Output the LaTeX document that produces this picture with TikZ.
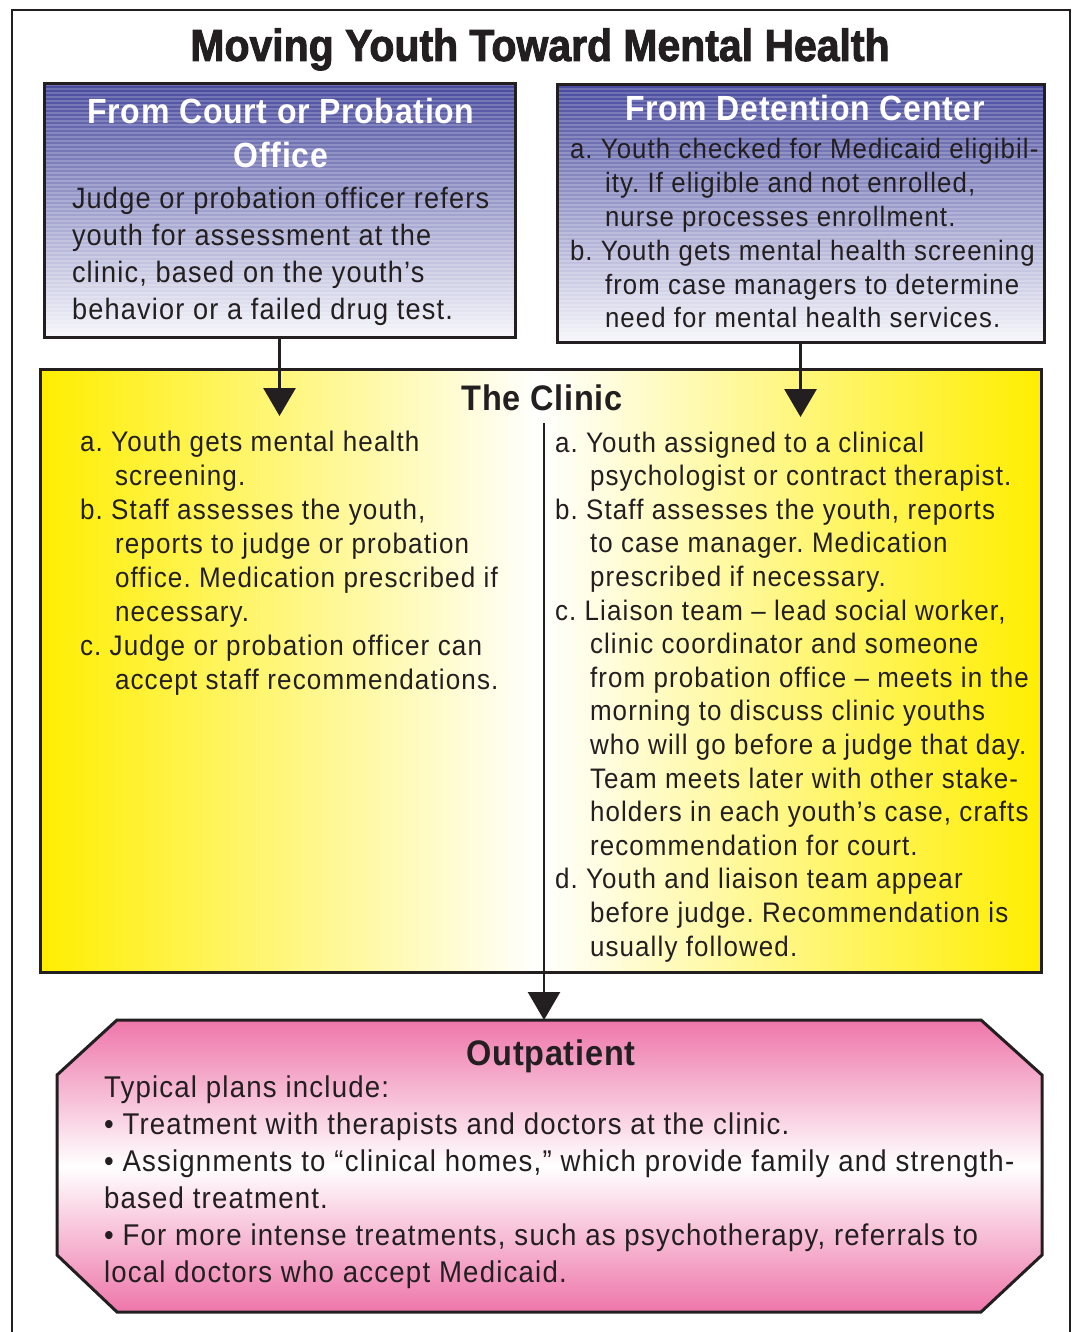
\documentclass[tikz,border=0pt]{standalone}
\usepackage{fontspec}
\setmainfont{Liberation Sans}[FakeStretch=0.92,LetterSpace=4]
\newfontfamily\headfont{Liberation Sans Bold}[FakeStretch=0.915,LetterSpace=2]
\newfontfamily\titlefont{Liberation Sans Bold}[FakeStretch=0.91,FakeBold=2]
\usetikzlibrary{arrows.meta}
\definecolor{ink}{RGB}{35,31,32}
\definecolor{blueTop}{RGB}{72,74,158}
\definecolor{blueBot}{RGB}{246,246,251}
\definecolor{yel}{RGB}{255,238,0}
\definecolor{pnk}{RGB}{238,118,170}
\frenchspacing
\newcommand\ind{\hspace*{35pt}}
\tikzset{
  plainbox/.style={draw=none, inner sep=0pt, outer sep=0pt},
  framed/.style={draw=ink, line width=3pt},
  txt/.style={anchor=base west, inner sep=0pt, outer sep=0pt, text=ink},
  hd/.style={anchor=base, inner sep=0pt, outer sep=0pt, text=white, font=\headfont\fontsize{35}{40}\selectfont},
  hdark/.style={anchor=base, inner sep=0pt, outer sep=0pt, text=ink, font=\headfont\fontsize{35.5}{40}\selectfont},
  conn/.style={draw=ink, line width=3pt, -{Triangle[width=32pt,length=28pt]}},
}
\begin{document}
\begin{tikzpicture}[x=1pt,y=-1pt]
\useasboundingbox (0,0) rectangle (1075,1332);
\fill[white] (0,0) rectangle (1075,1332);
% outer frame
\draw[ink, line width=2.5pt] (12,1332) -- (12,10) -- (1070,10) -- (1070,1332);
% title
\node[txt, anchor=base, font=\titlefont\fontsize{45}{50}\selectfont] (title) at (540,61) {Moving Youth Toward Mental Health};
% blue boxes
\node[plainbox, minimum width=471pt, minimum height=253pt, top color=blueTop, bottom color=blueBot] (court) at (279.5,210.5) {};
\node[plainbox, minimum width=487pt, minimum height=257pt, top color=blueTop, bottom color=blueBot] (det) at (800.5,213.5) {};
\begin{scope}
\clip (court.south west) rectangle (court.north east) (det.south west) rectangle (det.north east);
\foreach \yy in {85,89,...,345} \draw[white, opacity=0.2, line width=1.5pt] (30,\yy) -- (1060,\yy);
\end{scope}
\draw[framed] (court.south west) rectangle (court.north east);
\draw[framed] (det.south west) rectangle (det.north east);
% court text
\node[hd] (courtH1) at (281,124) {From Court or Probation};
\node[hd] (courtH2) at (281,168) {Office};
\node[txt] (courtB) at (72,209) {\parbox[t]{470pt}{\raggedright\fontsize{29.5}{36.7}\selectfont
Judge or probation officer refers\\
youth for assessment at the\\
clinic, based on the youth’s\\
behavior or a failed drug test.}};
% detention text
\node[hd] (detH) at (805,121) {From Detention Center};
\node[txt] (detB) at (570,159) {\parbox[t]{480pt}{\raggedright\fontsize{28}{33.8}\selectfont
a. Youth checked for Medicaid eligibil-\\
\ind ity. If eligible and not enrolled,\\
\ind nurse processes enrollment.\\
b. Youth gets mental health screening\\
\ind from case managers to determine\\
\ind need for mental health services.}};
% clinic
\node[plainbox, draw=ink, line width=3pt, minimum width=1001pt, minimum height=603pt, left color=yel, right color=yel, middle color=white] (clinic) at (540.5,670.5) {};
\node[hdark] (clinicH) at (542,410) {The Clinic};
\node[txt] (clinicL) at (80,451) {\parbox[t]{460pt}{\raggedright\fontsize{28.3}{34}\selectfont
a. Youth gets mental health\\
\ind screening.\\
b. Staff assesses the youth,\\
\ind reports to judge or probation\\
\ind office. Medication prescribed if\\
\ind necessary.\\
c. Judge or probation officer can\\
\ind accept staff recommendations.}};
\node[txt] (clinicR) at (555,452) {\parbox[t]{480pt}{\raggedright\fontsize{28.2}{33.6}\selectfont
a. Youth assigned to a clinical\\
\ind psychologist or contract therapist.\\
b. Staff assesses the youth, reports\\
\ind to case manager. Medication\\
\ind prescribed if necessary.\\
c. Liaison team – lead social worker,\\
\ind clinic coordinator and someone\\
\ind from probation office – meets in the\\
\ind morning to discuss clinic youths\\
\ind who will go before a judge that day.\\
\ind Team meets later with other stake-\\
\ind holders in each youth’s case, crafts\\
\ind recommendation for court.\\
d. Youth and liaison team appear\\
\ind before judge. Recommendation is\\
\ind usually followed.}};
% outpatient
\path[draw=ink, line width=3pt, top color=pnk, bottom color=pnk, middle color=white]
  (117,1020) -- (981,1020) -- (1042,1075) -- (1042,1255) -- (981,1312) -- (117,1312) -- (57,1255) -- (57,1075) -- cycle;
\coordinate (outtop) at (544,1020);
\node[hdark] (outH) at (551,1065) {Outpatient};
\node[txt] (outB) at (104,1097) {\parbox[t]{940pt}{\raggedright\fontsize{30}{37}\selectfont
Typical plans include:\\
• Treatment with therapists and doctors at the clinic.\\
• Assignments to “clinical homes,” which provide family and strength-\\
based treatment.\\
• For more intense treatments, such as psychotherapy, referrals to\\
local doctors who accept Medicaid.}};
% connectors
\coordinate (tipL) at (280,416);
\coordinate (tipR) at (800,417);
\coordinate (divtop) at (544,423);
\draw[conn] (court.south) -- (court.south |- tipL);
\draw[conn] (det.south) -- (det.south |- tipR);
\draw[conn, line width=2.5pt] (divtop) -- (divtop |- outtop);
\end{tikzpicture}
\end{document}
